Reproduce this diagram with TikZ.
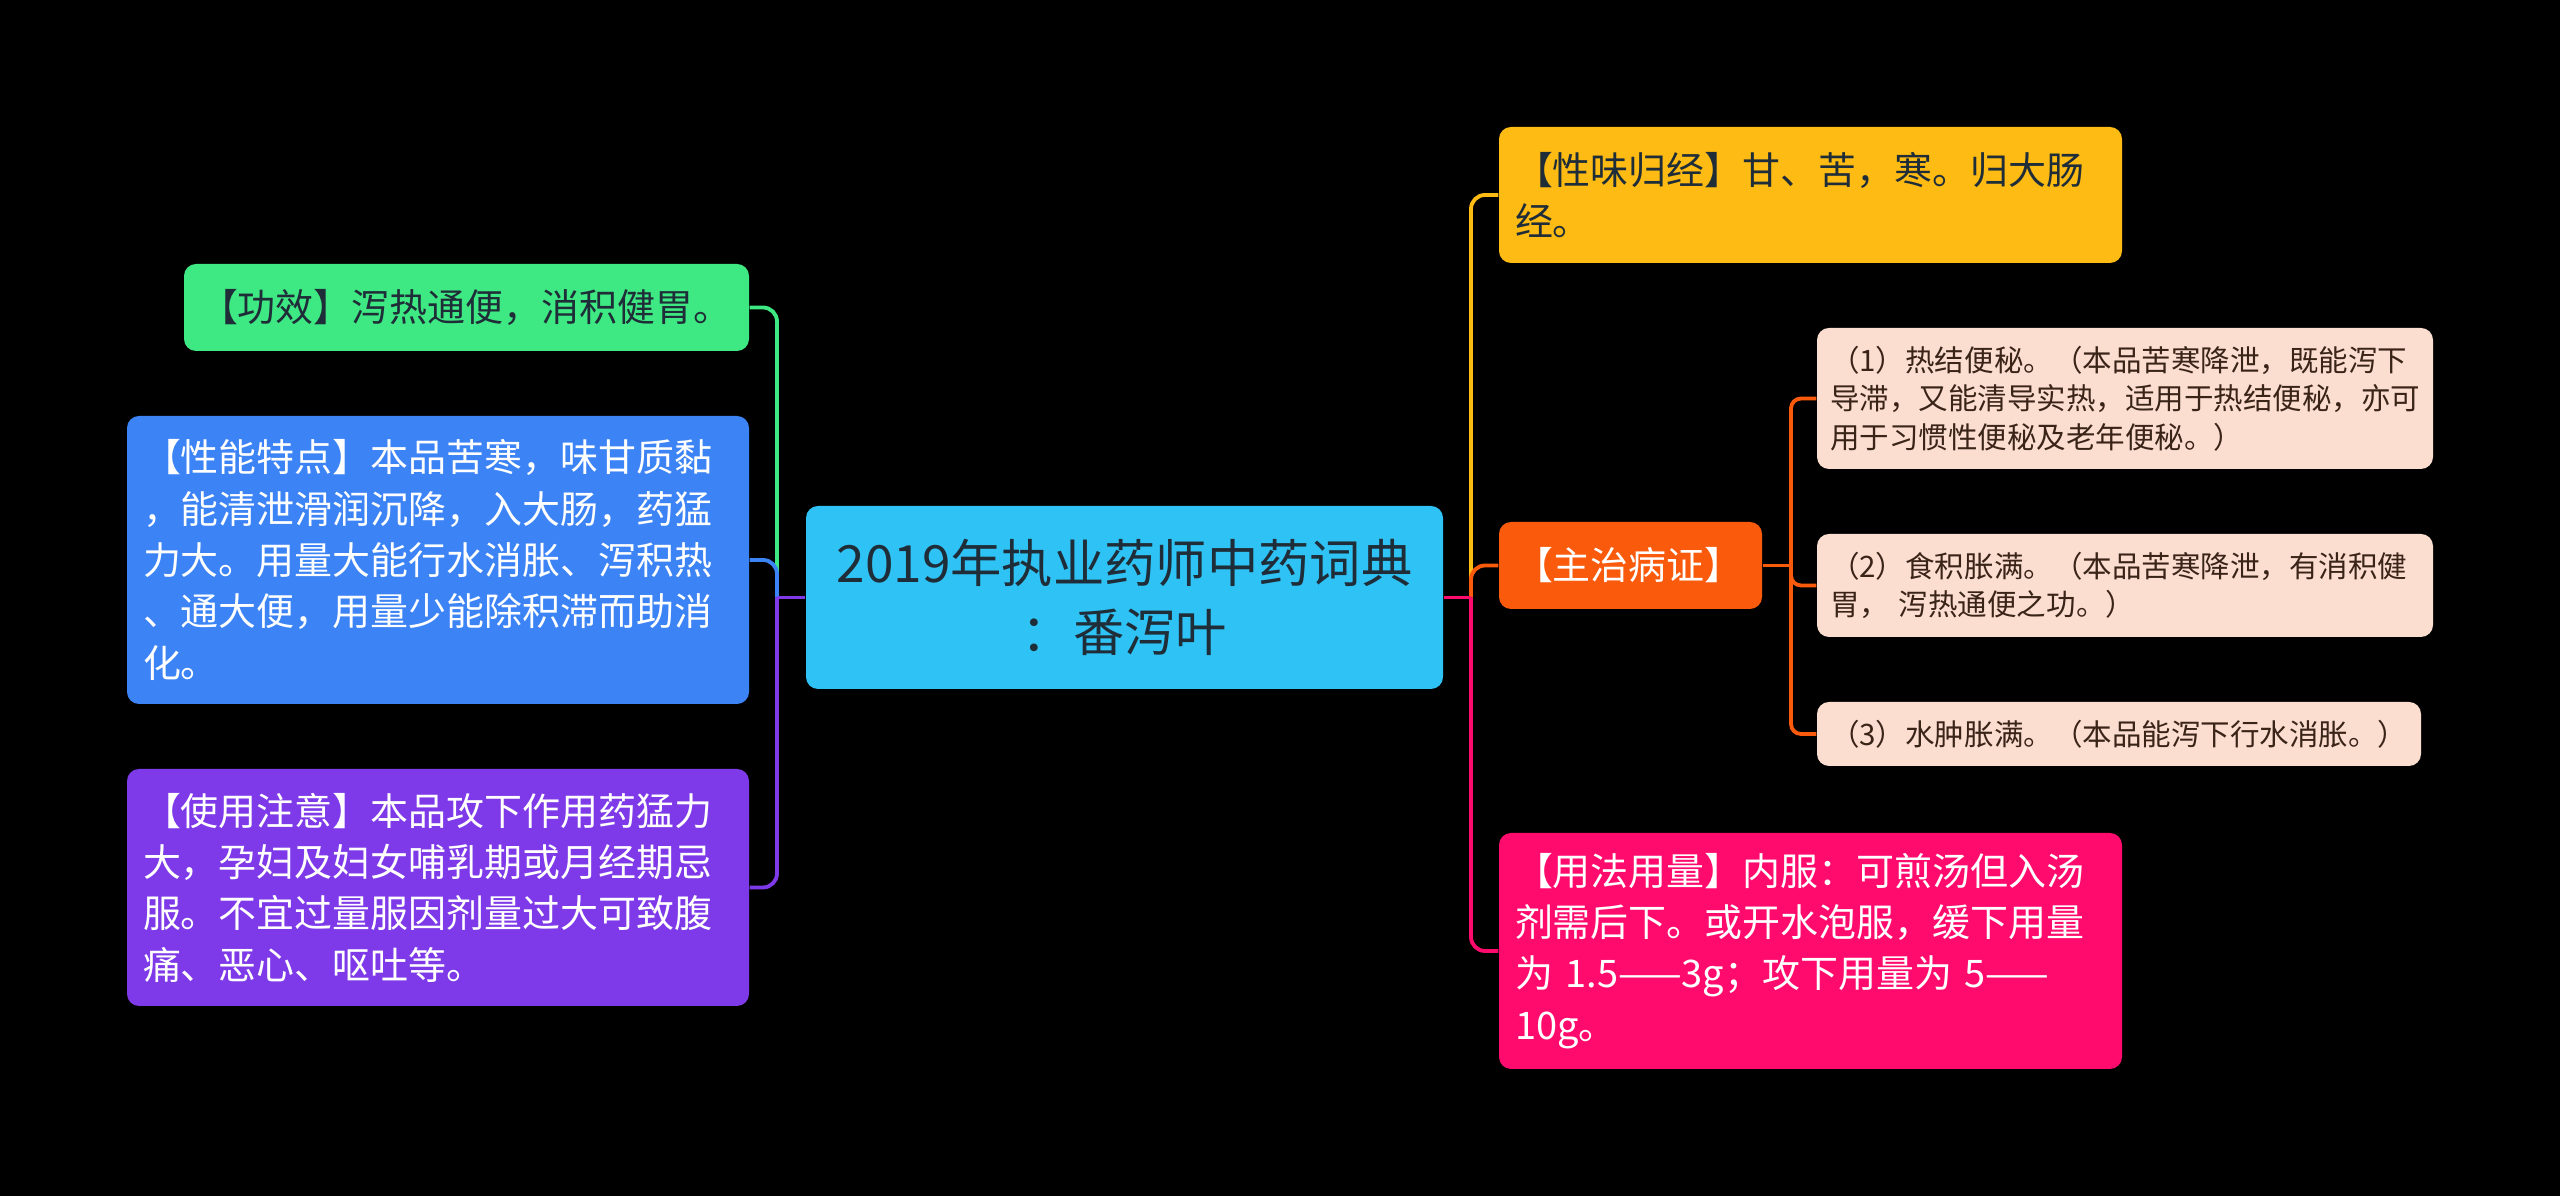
\documentclass[tikz,border=0pt]{standalone}
\usepackage{fontspec}
\setmainfont{Noto Sans CJK SC}
\definecolor{cbg}{HTML}{000000}
\definecolor{chub}{HTML}{2FC3F5}
\definecolor{cgreen}{HTML}{3EE882}
\definecolor{cblue}{HTML}{3C83F5}
\definecolor{cpurple}{HTML}{7E3AE8}
\definecolor{cyellow}{HTML}{FDBB13}
\definecolor{corange}{HTML}{FA5A0B}
\definecolor{cpeach}{HTML}{FCDED1}
\definecolor{cpink}{HTML}{FF0B6D}
\definecolor{cdark}{HTML}{1F2D38}
\definecolor{cbrown}{HTML}{3A2418}

\begin{document}
\begin{tikzpicture}[
  box/.style={rectangle, rounded corners=0.12cm, inner xsep=0.16cm, inner ysep=0pt, align=left, font=\fontsize{10.8}{14.6}\selectfont},
  subbox/.style={box, fill=cpeach, text=cbrown, inner xsep=0.13cm, font=\fontsize{8.4}{10.9}\selectfont},
  link/.style={line width=1.1pt, rounded corners=0.14cm},
]
  \fill[cbg] (0,0) rectangle (25.6,11.96);
  \useasboundingbox (0,0) rectangle (25.6,11.96);

  \node[box, fill=chub, text=cdark, align=center, minimum width=6.37cm, minimum height=1.83cm, font=\fontsize{14.6}{19.6}\selectfont] (hub) at (11.245,5.985) {2019年执业药师中药词典\\：番泻叶};

  \node[box, fill=cgreen, text=cdark, text width=5.33cm, minimum height=0.87cm] (gongxiao) at (4.665,8.885) {【功效】泻热通便，消积健胃。};
  \node[box, fill=cblue, text=white, text width=5.9cm, minimum height=2.88cm] (xingneng) at (4.38,6.36) {【性能特点】本品苦寒，味甘质黏\\，能清泄滑润沉降，入大肠，药猛\\力大。用量大能行水消胀、泻积热\\、通大便，用量少能除积滞而助消\\化。};
  \node[box, fill=cpurple, text=white, text width=5.9cm, minimum height=2.37cm] (zhuyi) at (4.38,3.085) {【使用注意】本品攻下作用药猛力\\大，孕妇及妇女哺乳期或月经期忌\\服。不宜过量服因剂量过大可致腹\\痛、恶心、呕吐等。};

  \node[box, fill=cyellow, text=cdark, text width=5.91cm, minimum height=1.36cm] (xingwei) at (18.105,10.01) {【性味归经】甘、苦，寒。归大肠\\经。};
  \node[box, fill=corange, text=white, text width=2.31cm, minimum height=0.87cm] (zhuzhi) at (16.305,6.305) {【主治病证】};
  \node[box, fill=cpink, text=white, text width=5.91cm, minimum height=2.36cm] (yongfa) at (18.105,2.45) {【用法用量】内服：可煎汤但入汤\\剂需后下。或开水泡服，缓下用量\\为 1.5——3g；攻下用量为 5——\\10g。};

  \node[subbox, text width=5.9cm, minimum height=1.41cm] (zz1) at (21.25,7.975) {（1）热结便秘。（本品苦寒降泄，既能泻下\\导滞，又能清导实热，适用于热结便秘，亦可\\用于习惯性便秘及老年便秘。）};
  \node[subbox, text width=5.9cm, minimum height=1.03cm] (zz2) at (21.25,6.105) {（2）食积胀满。（本品苦寒降泄，有消积健\\胃， 泻热通便之功。）};
  \node[subbox, text width=5.78cm, minimum height=0.64cm] (zz3) at (21.19,4.62) {（3）水肿胀满。（本品能泻下行水消胀。）};

  \coordinate (lt) at (7.77,0);
  \coordinate (rt) at (14.71,0);
  \coordinate (st) at (17.91,0);

  \foreach \n/\c in {gongxiao/cgreen, xingneng/cblue, zhuyi/cpurple} {
    \draw[link, \c] (hub.west -| lt) -- (\n.east -| lt) -- (\n.east);
    \draw[link, \c] (hub.west) -- (hub.west -| lt);
  }
  \foreach \n/\c in {xingwei/cyellow, zhuzhi/corange, yongfa/cpink} {
    \draw[link, \c] (hub.east -| rt) -- (\n.west -| rt) -- (\n.west);
    \draw[link, \c] (hub.east) -- (hub.east -| rt);
  }
  \foreach \n in {zz1, zz2, zz3}
    \draw[link, corange, rounded corners=0.1cm] (zhuzhi.east -| st) -- (\n.west -| st) -- (\n.west);
  \draw[link, corange] (zhuzhi.east) -- (zhuzhi.east -| st);
\end{tikzpicture}
\end{document}
